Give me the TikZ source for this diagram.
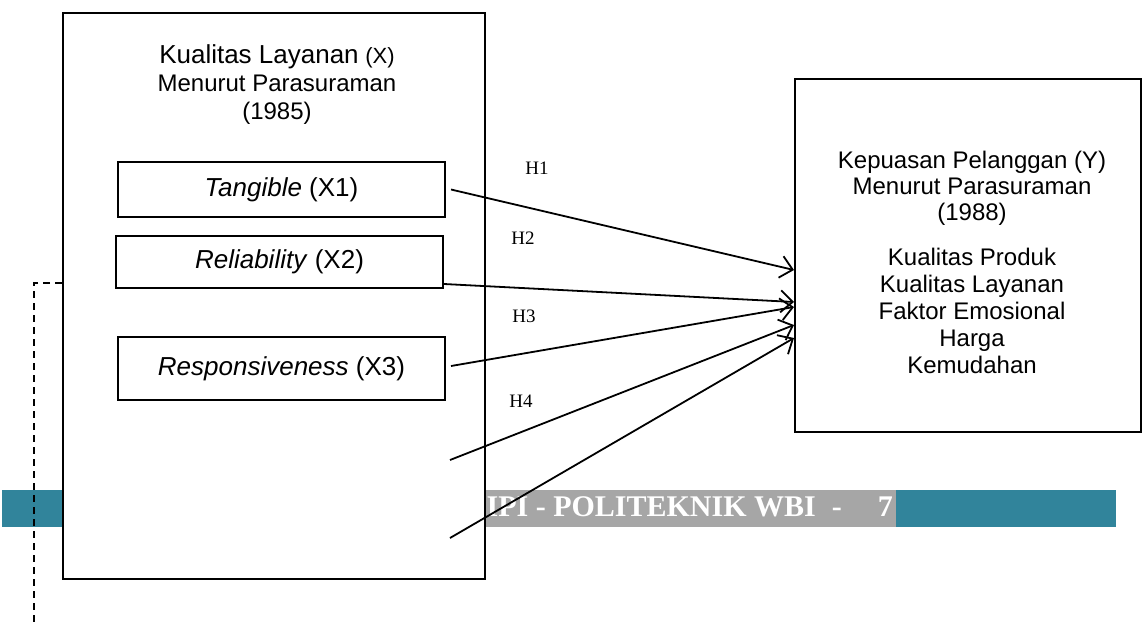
\documentclass[tikz,border=0pt]{standalone}
\usepackage{fontspec}
\setmainfont{Liberation Sans}
\newfontfamily\hfont{Liberation Serif}
\usepackage{tikz}
\usetikzlibrary{positioning, arrows.meta, calc}
\definecolor{wbiTeal}{HTML}{31849B}
\definecolor{wbiGray}{HTML}{A6A6A6}

\begin{document}
\begin{tikzpicture}[x=1pt, y=-1pt,
  bigbox/.style={draw, line width=2pt, fill=white, inner sep=0pt},
  dimbox/.style={draw, line width=2pt, fill=white, inner sep=0pt,
                 minimum width=327pt, minimum height=55pt,
                 font=\fontsize{26}{28}\selectfont},
  arr/.style={-{Straight Barb[length=12pt, width=22pt]}, line width=1.8pt},
  hlabel/.style={font=\hfont\fontsize{19}{21}\selectfont}
]
\useasboundingbox (0,0) rectangle (1143,622);

% footer band
\fill[wbiTeal] (2,490) rectangle (1116,527);
\fill[wbiGray] (470,490) rectangle (896,527);
\node[anchor=east, inner sep=0pt, text=white,
      font=\hfont\bfseries\fontsize{30}{30}\selectfont] (wbi) at (893,507)
  {IPI - POLITEKNIK WBI\hspace{16pt}-\hspace{36pt}7};

% Kualitas Layanan (X)
\node[bigbox, minimum width=422pt, minimum height=566pt] (kl) at (274,296) {};
\node[font=\fontsize{24}{28}\selectfont, align=center] (kltitle) at (277,85)
  {{\fontsize{26}{28}\selectfont Kualitas Layanan} {\fontsize{22}{28}\selectfont (X)}\\Menurut Parasuraman\\(1985)};

\node[dimbox] (x1) at (281.5,189.5) {\textit{Tangible} (X1)};
\node[dimbox, minimum height=52pt] (x2) at (279.5,262) {\textit{Reliability} (X2)};
\node[dimbox, minimum height=63pt] (x3) at (281.5,368.5) {\textit{Responsiveness} (X3)};

\draw[line width=1.4pt, dash pattern=on 7pt off 5pt]
  ([yshift=13pt]kl.west) -- ++(-28,0) -- ++(0,339);

% Kepuasan Pelanggan (Y)
\node[bigbox, minimum width=346pt, minimum height=353pt] (ky) at (968,255.5) {};
\node[font=\fontsize{24}{26}\selectfont, align=center] (kytitle) at (972,188)
  {Kepuasan Pelanggan (Y)\\Menurut Parasuraman\\(1988)};
\node[font=\fontsize{24}{27}\selectfont, align=center] (kylist) at (972,311)
  {Kualitas Produk\\Kualitas Layanan\\Faktor Emosional\\Harga\\Kemudahan};

% hipotesis
\coordinate (x4) at (450,460);
\coordinate (x5) at (450,538);
\draw[arr] ([xshift=5pt]x1.east) -- ([yshift=-14.5pt]ky.west);
\draw[arr] ([yshift=5pt]x2.south east) -- ([yshift=-46.5pt]ky.west);
\draw[arr] ([xshift=5pt, yshift=2.5pt]x3.east) -- ([yshift=-51.5pt]ky.west);
\draw[arr] (x4) -- ([yshift=-69.5pt]ky.west);
\draw[arr] (x5) -- ([yshift=-82.5pt]ky.west);

\node[hlabel] (h1) at (537,168) {H1};
\node[hlabel] (h2) at (523,238) {H2};
\node[hlabel] (h3) at (524,316) {H3};
\node[hlabel] (h4) at (521,401) {H4};
\end{tikzpicture}
\end{document}
